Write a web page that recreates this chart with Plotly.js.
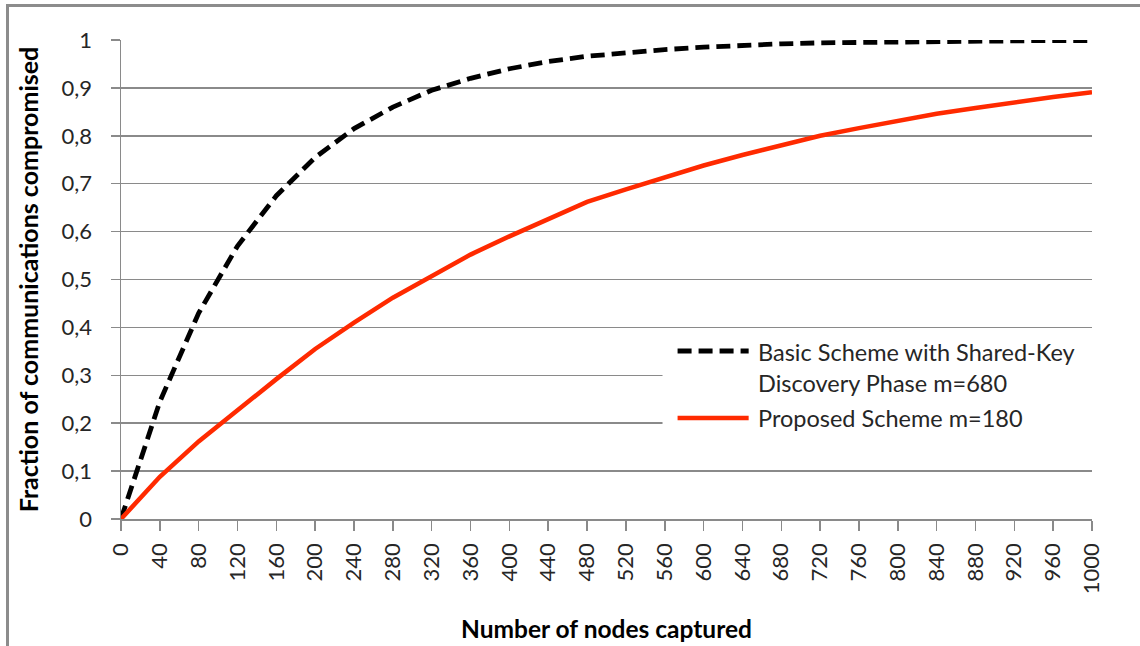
<!DOCTYPE html>
<html><head><meta charset="utf-8">
<script src="https://cdn.plot.ly/plotly-3.0.1.min.js"></script>
<style>
html,body{margin:0;padding:0;background:#fff;overflow:hidden}
#chart{position:absolute;left:0;top:0;width:1140px;height:646px}
#frame{position:absolute;left:6px;top:4px;width:1200px;height:700px;border-left:3px solid #8c8c8c;border-top:3px solid #8c8c8c;pointer-events:none}
</style></head><body>
<div id="chart"></div><div id="frame"></div>
<script>
const nodesCaptured = [0,40,80,120,160,200,240,280,320,360,400,440,480,520,560,600,640,680,720,760,800,840,880,920,960,1000];
const xTickLabels = nodesCaptured.map(String);
const basicScheme = [0,0.245,0.43,0.57,0.675,0.755,0.815,0.86,0.895,0.92,0.94,0.955,0.966,0.974,0.98,0.985,0.989,0.992,0.994,0.995,0.997,0.998,0.998,0.999,0.999,0.999];
const proposedScheme = [0,0.088,0.162,0.228,0.292,0.355,0.41,0.462,0.508,0.552,0.59,0.626,0.662,0.688,0.714,0.738,0.76,0.781,0.8,0.816,0.832,0.846,0.858,0.87,0.881,0.891];
const seriesNames = ['Basic Scheme with Shared-Key<br>Discovery Phase m=680', 'Proposed Scheme m=180'];
const seriesColors = ['#000000', '#ff2a00'];
const xTitle = 'Number of nodes captured';
const yTitle = 'Fraction of communications compromised';

const FONT = 'Lato, "Open Sans", sans-serif';
const GRID = '#8a8a8a';
const TXT = '#262626';

const traces = [
  {x: nodesCaptured, y: basicScheme, name: seriesNames[0], mode: 'lines', showlegend: false,
   line: {color: seriesColors[0], width: 4.8, dash: '14px,7px'}},
  {x: nodesCaptured, y: proposedScheme, name: seriesNames[1], mode: 'lines', showlegend: false,
   line: {color: seriesColors[1], width: 4.5}}
];

const layout = {
  width: 1140, height: 646,
  margin: {l: 121, r: 48, t: 40, b: 127},
  paper_bgcolor: 'rgba(0,0,0,0)', plot_bgcolor: '#fff',
  font: {family: FONT, color: TXT},
  separators: ',.',
  xaxis: {
    range: [0, 1000], tickmode: 'array', tickvals: nodesCaptured, ticktext: xTickLabels,
    tickangle: -90, ticks: 'outside', ticklen: 10, tickcolor: GRID, tickwidth: 1.5,
    showgrid: false, zeroline: false, showline: true, linecolor: GRID, linewidth: 1.5,
    tickfont: {size: 22, family: FONT, color: TXT}, ticklabelstandoff: 4,
    title: {text: '<b>' + xTitle + '</b>', font: {size: 24.5, family: FONT, color: '#000'}, standoff: 27}
  },
  yaxis: {
    range: [0, 1], dtick: 0.1, tick0: 0, ticks: 'outside', ticklen: 9, tickcolor: GRID, tickwidth: 1.5,
    showgrid: true, gridcolor: GRID, gridwidth: 1.5, zeroline: false, showline: true, linecolor: GRID, linewidth: 1.5,
    tickfont: {size: 22, family: FONT, color: TXT}, ticklabelstandoff: 14,
    title: {text: '<b>' + yTitle + '</b>', font: {size: 25, family: FONT, color: '#000'}, standoff: 16}
  },
  shapes: [
    {type: 'rect', xref: 'paper', yref: 'paper', x0: 0.5577, x1: 1.002, y0: 0.123, y1: 0.388,
     fillcolor: '#fff', line: {width: 0}, layer: 'above'},
    {type: 'line', xref: 'paper', yref: 'paper', x0: 0.5732, x1: 0.6464, y0: 0.3507, y1: 0.3507,
     line: {color: seriesColors[0], width: 4.8, dash: '14px,7px'}, layer: 'above'},
    {type: 'line', xref: 'paper', yref: 'paper', x0: 0.5732, x1: 0.6464, y0: 0.2109, y1: 0.2109,
     line: {color: seriesColors[1], width: 4.5}, layer: 'above'}
  ],
  annotations: [
    {xref: 'paper', yref: 'paper', x: 0.6536, y: 0.3507, xanchor: 'left', yanchor: 'top', yshift: 15,
     text: seriesNames[0], showarrow: false, align: 'left', font: {size: 23.5, family: FONT, color: TXT}},
    {xref: 'paper', yref: 'paper', x: 0.6536, y: 0.2109, xanchor: 'left', yanchor: 'middle',
     text: seriesNames[1], showarrow: false, align: 'left', font: {size: 23.5, family: FONT, color: TXT}}
  ]
};

Plotly.newPlot('chart', traces, layout, {displayModeBar: false, staticPlot: true});
</script>
</body></html>
